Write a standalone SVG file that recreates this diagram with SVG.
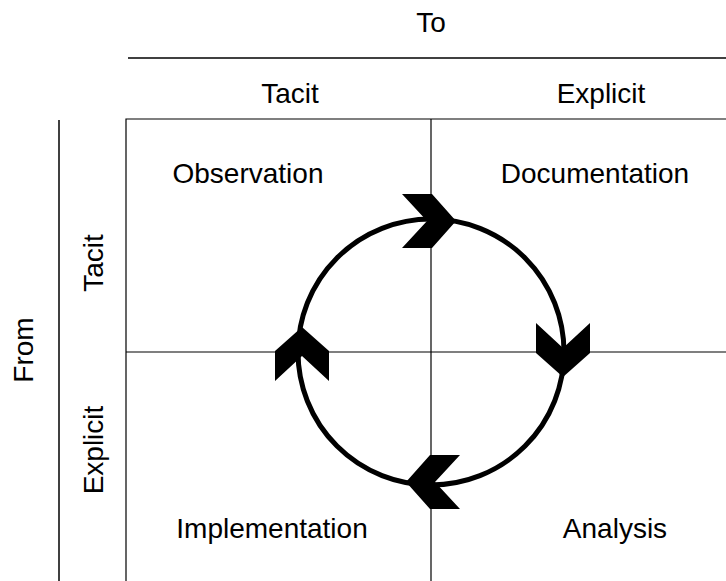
<svg xmlns="http://www.w3.org/2000/svg" width="726" height="581" viewBox="0 0 726 581">
<style>
text{font-family:"Liberation Sans",Arial,sans-serif;font-size:28px;fill:#000;text-anchor:middle}
.ax{stroke:#404040;stroke-width:2;fill:none}
.grid{stroke:#000;stroke-width:1.2;fill:none}
.chev{fill:#000;stroke:none}
</style>
<rect width="726" height="581" fill="#fff"/>
<g id="axes">
<line class="ax" x1="128" y1="58" x2="726" y2="58"/>
<line class="ax" x1="59" y1="120" x2="59" y2="581"/>
<text x="431" y="32">To</text>
<text x="290" y="103">Tacit</text>
<text x="601" y="103">Explicit</text>
<text transform="translate(33,350) rotate(-90)">From</text>
<text transform="translate(103,263) rotate(-90)">Tacit</text>
<text transform="translate(103,450) rotate(-90)">Explicit</text>
</g>
<g id="grid">
<polyline class="grid" points="726,119 126,119 126,581"/>
<line class="grid" x1="431" y1="119" x2="431" y2="581"/>
<line class="grid" x1="126" y1="352" x2="726" y2="352"/>
</g>
<g id="observation"><text x="248" y="183">Observation</text></g>
<g id="documentation"><text x="595" y="183">Documentation</text></g>
<g id="implementation"><text x="272" y="538">Implementation</text></g>
<g id="analysis"><text x="615" y="538">Analysis</text></g>
<g id="connectors">
<circle cx="431" cy="352" r="133" fill="none" stroke="#000" stroke-width="5"/>
<polygon class="chev" points="402,194 432,194 456,221 432,248 402,248 427,221"/>
<polygon class="chev" points="536,323 563,348 590,323 590,353 563,377 536,353"/>
<polygon class="chev" points="275,381 302,356 329,381 329,351 302,327 275,351"/>
<polygon class="chev" points="460,455 435,482 460,509 430,509 406,482 430,455"/>
</g>
</svg>
